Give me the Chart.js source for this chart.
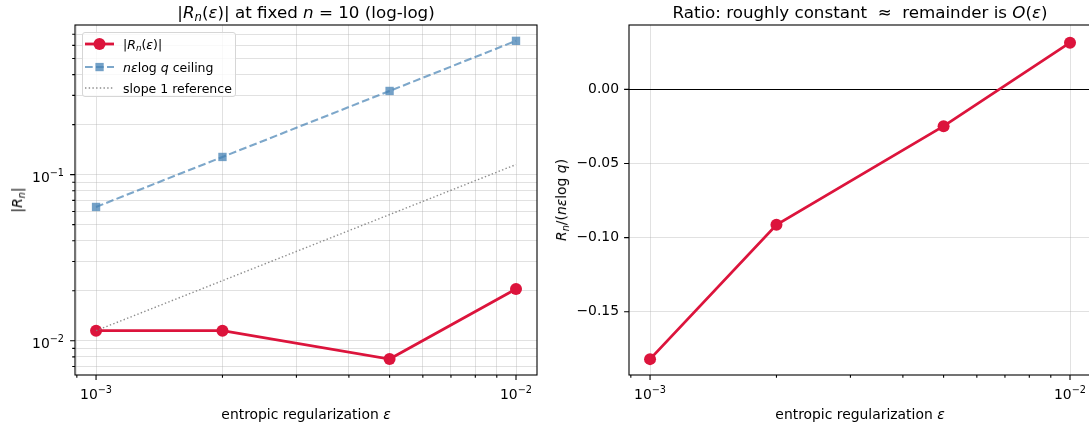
<!DOCTYPE html>
<html>
<head>
<meta charset="utf-8">
<script src="https://cdn.jsdelivr.net/npm/chart.js"></script>
<style>
  body { margin: 0; width: 1089px; height: 430px; overflow: hidden; position: relative; background: #fff;
         font-family: "DejaVu Sans", sans-serif; color: #000; }
  canvas { position: absolute; top: 0; }
  .lbl { position: absolute; white-space: nowrap; transform: translate(-50%, -50%); line-height: 1; }
  .rot { transform: translate(-50%, -50%) rotate(-90deg); }
  .title { font-size: 16.7px; }
  .axis { font-size: 13.9px; }
  sub { font-size: 70%; vertical-align: -0.28em; line-height: 0; }
  i { font-style: oblique; }
  #legend { position: absolute; left: 82px; top: 32px; width: 154px; height: 65px; box-sizing: border-box;
            border: 1px solid #d6d6d6; border-radius: 3px; background: rgba(255,255,255,0.8); font-size: 12.5px; }
  .row { position: absolute; left: 0; height: 20px; }
  .row svg { position: absolute; left: 2px; top: 0; }
  .row span { position: absolute; left: 40px; top: 50%; transform: translateY(-50%); white-space: nowrap; }
</style>
</head>
<body>
<canvas id="left-chart" width="560" height="430" style="left:0"></canvas>
<canvas id="right-chart" width="540" height="430" style="left:560px"></canvas>

<div class="lbl title" style="left:306px; top:12px">|<i>R</i><sub><i>n</i></sub>(<i>ε</i>)| at fixed <i>n</i> = 10 (log-log)</div>
<div class="lbl title" style="left:860px; top:12px">Ratio: roughly constant &nbsp;≈&nbsp; remainder is <i>O</i>(<i>ε</i>)</div>
<div class="lbl axis" style="left:306px; top:415px">entropic regularization <i>ε</i></div>
<div class="lbl axis" style="left:860px; top:415px">entropic regularization <i>ε</i></div>
<div class="lbl axis rot" style="left:18px; top:200px">|<i>R</i><sub><i>n</i></sub>|</div>
<div class="lbl axis rot" style="left:562px; top:200px"><i>R</i><sub><i>n</i></sub>/(<i>nε</i>log <i>q</i>)</div>

<div id="legend">
  <div class="row" style="top:1px">
    <svg width="30" height="20"><line x1="0" y1="10" x2="29" y2="10" stroke="#dc143c" stroke-width="2.8"/><circle cx="14.5" cy="10" r="6" fill="#dc143c"/></svg>
    <span>|<i>R</i><sub><i>n</i></sub>(<i>ε</i>)|</span>
  </div>
  <div class="row" style="top:24px">
    <svg width="30" height="20"><line x1="0" y1="10" x2="29" y2="10" stroke="rgba(70,130,180,0.7)" stroke-width="2.1" stroke-dasharray="7.7 3.3"/><rect x="10.4" y="5.9" width="8.3" height="8.3" fill="rgba(70,130,180,0.75)"/></svg>
    <span><i>nε</i>log <i>q</i> ceiling</span>
  </div>
  <div class="row" style="top:45px">
    <svg width="30" height="20"><line x1="0" y1="10" x2="29" y2="10" stroke="rgba(128,128,128,0.9)" stroke-width="1.4" stroke-dasharray="1.4 2.3"/></svg>
    <span>slope 1 reference</span>
  </div>
</div>

<script>
// data
const eps = [0.001, 0.002, 0.005, 0.01]
const remainderAbs = [0.0115, 0.0115, 0.00776, 0.0205]
const ceiling = [0.0639, 0.1278, 0.319, 0.639]
const refEps = [0.001, 0.01]
const refSlope = [0.0115, 0.115]
const ratio = [-0.1819, -0.0913, -0.0248, 0.0315]

// ticks (labels as [base, exponent])
const xTicks = [0.0009, 0.001, 0.002, 0.003, 0.004, 0.005, 0.006, 0.007, 0.008, 0.009, 0.01]
const xTickLabels = { 0.001: ["10", "\u22123"], 0.01: ["10", "\u22122"] }
const yTicksLeft = [0.007, 0.008, 0.009, 0.01, 0.02, 0.03, 0.04, 0.05, 0.06, 0.07, 0.08, 0.09,
  0.1, 0.2, 0.3, 0.4, 0.5, 0.6, 0.7]
const yTickLabelsLeft = { 0.01: ["10", "\u22122"], 0.1: ["10", "\u22121"] }
const yTicksRight = [-0.15, -0.1, -0.05, 0]

const tickFont = { family: "DejaVu Sans", size: 13.9 }
const gridColor = "rgba(176,176,176,0.38)"

const pts = (xs, ys) => xs.map((x, i) => ({ x: x, y: ys[i] }))

// "10" with a raised exponent, like matplotlib mathtext
function drawPower(ctx, parts, x, baseline, align) {
  ctx.font = '13.9px "DejaVu Sans"'
  const wb = ctx.measureText(parts[0]).width
  ctx.font = '9.7px "DejaVu Sans"'
  const we = ctx.measureText(parts[1]).width
  const start = align === "center" ? x - (wb + we) / 2 : x - (wb + we)
  ctx.font = '13.9px "DejaVu Sans"'
  ctx.fillText(parts[0], start, baseline)
  ctx.font = '9.7px "DejaVu Sans"'
  ctx.fillText(parts[1], start + wb, baseline - 6)
}

// frame around the axes, outward tick marks, power-of-ten labels
function framePlugin(xLabels, yLabels) {
  return {
    id: "frame",
    afterDraw(chart) {
      const ctx = chart.ctx
      const a = chart.chartArea
      const sx = chart.scales.x
      const sy = chart.scales.y
      ctx.save()
      ctx.strokeStyle = "#000"
      ctx.lineWidth = 1.1
      ctx.beginPath()
      sx.ticks.forEach((t) => {
        const px = sx.getPixelForValue(t.value)
        const len = xLabels[t.value] ? 4.9 : 2.8
        ctx.moveTo(px, a.bottom)
        ctx.lineTo(px, a.bottom + len)
      })
      sy.ticks.forEach((t) => {
        const py = sy.getPixelForValue(t.value)
        const len = !yLabels || yLabels[t.value] ? 4.9 : 2.8
        ctx.moveTo(a.left, py)
        ctx.lineTo(a.left - len, py)
      })
      ctx.stroke()
      ctx.strokeRect(a.left, a.top, a.right - a.left, a.bottom - a.top)

      ctx.fillStyle = "#000"
      ctx.textBaseline = "alphabetic"
      ctx.textAlign = "left"
      sx.ticks.forEach((t) => {
        if (xLabels[t.value]) drawPower(ctx, xLabels[t.value], sx.getPixelForValue(t.value), a.bottom + 24.3, "center")
      })
      if (yLabels) {
        sy.ticks.forEach((t) => {
          if (yLabels[t.value]) drawPower(ctx, yLabels[t.value], a.left - 11, sy.getPixelForValue(t.value) + 7, "right")
        })
      }
      ctx.restore()
    },
  }
}

function logAxis(min, max, tickList, labels, size, side, majorGridOnly) {
  return {
    type: "logarithmic",
    min: min,
    max: max,
    bounds: "data",
    afterBuildTicks: (s) => { s.ticks = tickList.map((v) => ({ value: v })) },
    afterFit: (s) => { if (side === "x") s.height = size; else s.width = size },
    border: { display: false },
    grid: {
      drawTicks: false,
      lineWidth: 1,
      color: (c) => (!majorGridOnly || (c.tick && labels[c.tick.value]) ? gridColor : "rgba(0,0,0,0)"),
    },
    ticks: { display: false, autoSkip: false },
  }
}

// left: |R_n| log-log
new Chart(document.getElementById("left-chart"), {
  type: "line",
  data: {
    datasets: [
      {
        data: pts(eps, remainderAbs), order: 3,
        borderColor: "#dc143c", backgroundColor: "#dc143c", borderWidth: 2.8,
        pointRadius: 6, pointBorderWidth: 0, pointBackgroundColor: "#dc143c",
      },
      {
        data: pts(eps, ceiling), order: 2,
        borderColor: "rgba(70,130,180,0.7)", borderWidth: 2.1, borderDash: [7.7, 3.3],
        pointStyle: "rect", pointRadius: 5.9, pointBorderWidth: 0,
        pointBackgroundColor: "rgba(70,130,180,0.75)",
      },
      {
        data: pts(refEps, refSlope), order: 1,
        borderColor: "rgba(128,128,128,0.9)", borderWidth: 1.4, borderDash: [1.4, 2.3],
        pointRadius: 0,
      },
    ],
  },
  options: {
    responsive: false,
    animation: false,
    events: [],
    layout: { padding: { top: 25, right: 23, left: 0, bottom: 0 } },
    plugins: { legend: { display: false }, tooltip: { enabled: false } },
    scales: {
      x: logAxis(0.000891, 0.01122, xTicks, xTickLabels, 55, "x", false),
      y: logAxis(0.00622, 0.796, yTicksLeft, yTickLabelsLeft, 75, "y", false),
    },
  },
  plugins: [framePlugin(xTickLabels, yTickLabelsLeft)],
})

// right: ratio R_n / (n eps log q)
new Chart(document.getElementById("right-chart"), {
  type: "line",
  data: {
    datasets: [
      {
        data: pts(eps, ratio),
        borderColor: "#dc143c", backgroundColor: "#dc143c", borderWidth: 2.8,
        pointRadius: 6, pointBorderWidth: 0, pointBackgroundColor: "#dc143c",
      },
    ],
  },
  options: {
    responsive: false,
    animation: false,
    events: [],
    layout: { padding: { top: 25, right: 9, left: 0, bottom: 0 } },
    plugins: { legend: { display: false }, tooltip: { enabled: false } },
    scales: {
      x: logAxis(0.000891, 0.01122, xTicks, xTickLabels, 55, "x", true),
      y: {
        type: "linear",
        min: -0.1926,
        max: 0.0434,
        bounds: "data",
        afterBuildTicks: (s) => { s.ticks = yTicksRight.map((v) => ({ value: v })) },
        afterFit: (s) => { s.width = 69 },
        border: { display: false },
        grid: {
          drawTicks: false,
          color: (c) => (c.tick && c.tick.value === 0 ? "#000" : gridColor),
          lineWidth: (c) => (c.tick && c.tick.value === 0 ? 1.1 : 1),
        },
        ticks: {
          padding: 10, color: "#000", font: tickFont,
          callback: (v) => (v === 0 ? "0.00" : "\u2212" + Math.abs(v).toFixed(2)),
        },
      },
    },
  },
  plugins: [framePlugin(xTickLabels, null)],
})
</script>
</body>
</html>
